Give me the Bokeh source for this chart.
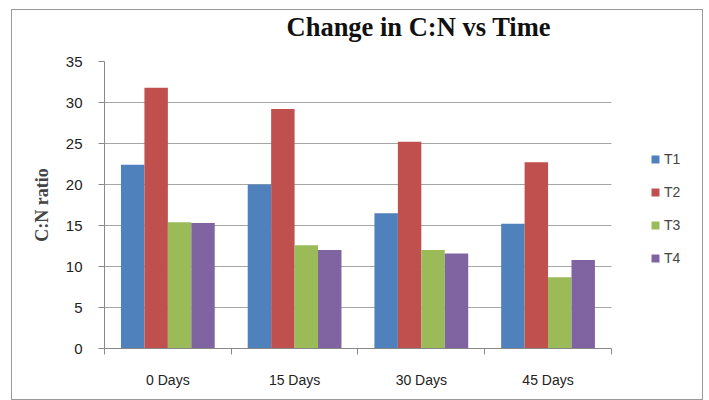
from bokeh.plotting import figure
from bokeh.models import ColumnDataSource, FixedTicker, Legend, LegendItem, Range1d, Title
from bokeh.embed import file_html
from bokeh.resources import INLINE

categories = ["0 Days", "15 Days", "30 Days", "45 Days"]
series = ["T1", "T2", "T3", "T4"]
t1 = [22.4, 20.0, 16.5, 15.2]
t2 = [31.8, 29.2, 25.2, 22.7]
t3 = [15.4, 12.6, 12.0, 8.7]
t4 = [15.3, 12.0, 11.6, 10.8]
colors = ["#4F81BD", "#C0504D", "#9BBB59", "#8064A2"]
yticks = [0, 5, 10, 15, 20, 25, 30, 35]

ncat = len(categories)
p = figure(width=692, height=391, output_backend="svg", toolbar_location=None,
           x_range=Range1d(0, ncat * 1.158), y_range=Range1d(0, 35),
           min_border_left=92, min_border_right=13, min_border_top=51, min_border_bottom=53)
p.styles = {"border": "1px solid #9a9a9a", "box-sizing": "border-box",
            "margin-left": "11px", "margin-top": "9px"}
p.outline_line_color = None

p.title.text = "Change in C:N vs Time"
p.title.align = "left"
p.title.offset = 182
p.title.standoff = 0
p.title.vertical_align = "top"
p.title.text_font = "Liberation Serif"
p.title.text_font_style = "bold"
p.title.text_font_size = "26.5px"
p.title.text_color = "#111111"
# empty spacer between title and plot area
p.add_layout(Title(text=" ", text_font_size="9px", standoff=6), "above")

bw = 0.185
offs = [-1.5 * bw, -0.5 * bw, 0.5 * bw, 1.5 * bw]
items = []
for s, vals, c, o in zip(series, [t1, t2, t3, t4], colors, offs):
    src = ColumnDataSource(dict(x=[i + 0.5 + o for i in range(ncat)], top=vals))
    r = p.vbar(x="x", top="top", width=bw, bottom=0, source=src, fill_color=c, line_color=None)
    items.append(LegendItem(label=s, renderers=[r]))

# x axis
p.xaxis.ticker = FixedTicker(ticks=[i + 0.5 for i in range(ncat)], minor_ticks=list(range(ncat + 1)))
p.xaxis.major_label_overrides = {i + 0.5: c for i, c in enumerate(categories)}
p.xaxis.bounds = (0, ncat)
p.xaxis.major_tick_out = 0
p.xaxis.major_tick_in = 0
p.xaxis.minor_tick_out = 6
p.xaxis.minor_tick_in = 0
p.xaxis.minor_tick_line_color = "#888888"
p.xaxis.axis_line_color = "#888888"
p.xaxis.major_label_text_font = "Liberation Sans"
p.xaxis.major_label_text_font_size = "14px"
p.xaxis.major_label_text_color = "#222222"
p.xaxis.major_label_standoff = 17
p.xgrid.grid_line_color = None

# y axis
p.yaxis.ticker = FixedTicker(ticks=yticks, minor_ticks=[])
p.yaxis.major_tick_out = 6
p.yaxis.major_tick_in = 0
p.yaxis.major_tick_line_color = "#888888"
p.yaxis.axis_line_color = "#888888"
p.yaxis.major_label_text_font = "Liberation Sans"
p.yaxis.major_label_text_font_size = "15px"
p.yaxis.major_label_text_color = "#222222"
p.yaxis.major_label_standoff = 16
p.yaxis.axis_label = "C:N ratio"
p.yaxis.axis_label_text_font = "Liberation Serif"
p.yaxis.axis_label_text_font_style = "bold"
p.yaxis.axis_label_text_font_size = "18px"
p.yaxis.axis_label_standoff = 11
p.ygrid.grid_line_color = "#a6a6a6"
p.ygrid.cross_bounds = (0, ncat)

legend = Legend(items=items, location=(546, 80), glyph_width=10, glyph_height=10,
                label_height=21, spacing=12, label_standoff=4, padding=0, margin=0,
                border_line_color=None, background_fill_alpha=0,
                label_text_font="Liberation Sans", label_text_font_size="14px")
p.add_layout(legend, "center")

open("out.html", "w").write(file_html(p, INLINE))
